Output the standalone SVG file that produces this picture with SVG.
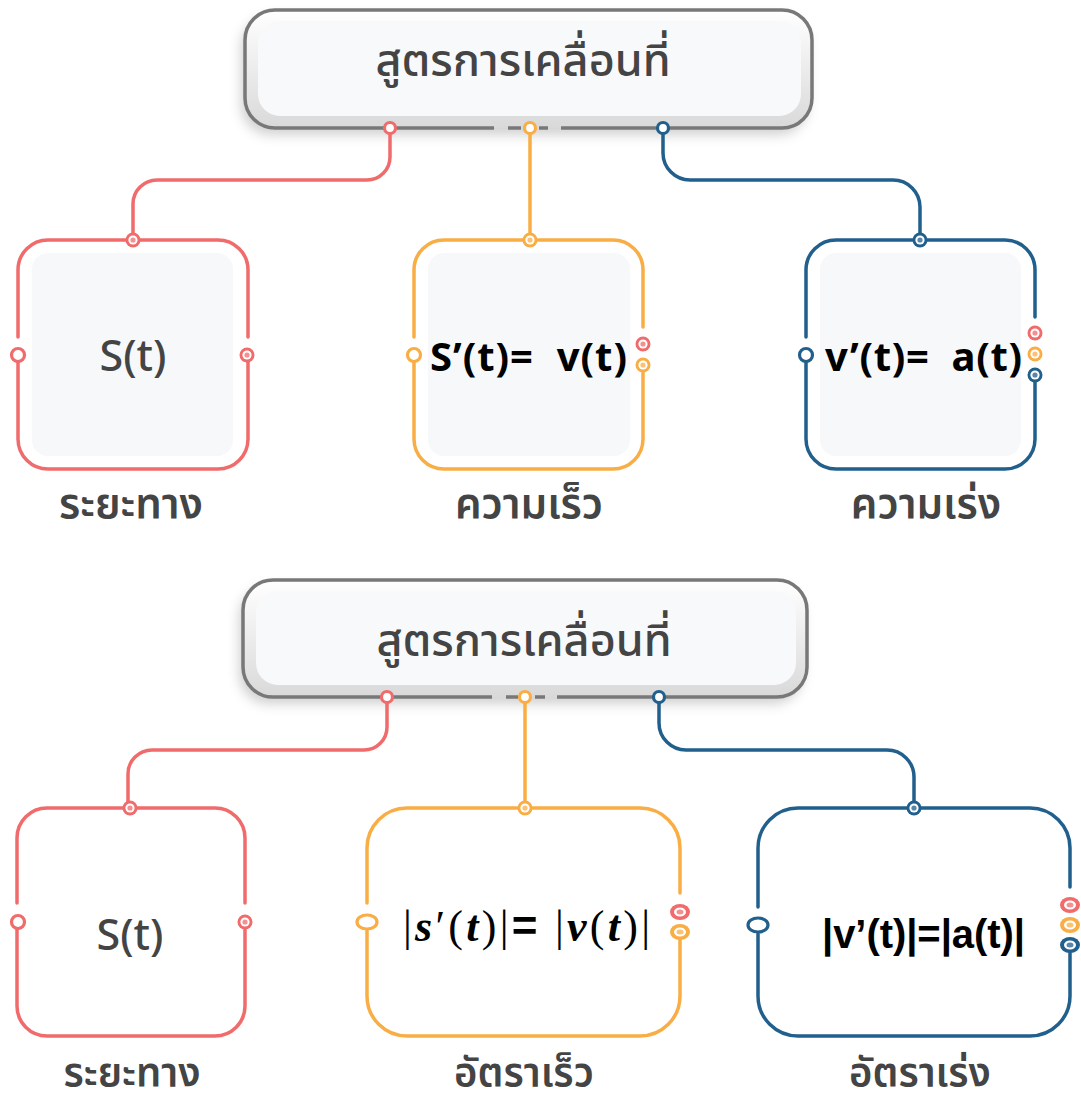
<svg xmlns="http://www.w3.org/2000/svg" width="1081" height="1104" viewBox="0 0 1081 1104">
<defs>
<style>
.th{font-family:'Noto Sans Thai','Noto Sans','Noto Sans CJK SC',sans-serif;fill:#444;}
.hd{font-size:45px;font-weight:500;}
.lb{font-size:42px;font-weight:600;}
.lb2{font-size:40px;font-weight:600;}
.st{font-family:'Noto Sans','Open Sans',sans-serif;font-size:43px;font-weight:500;fill:#444;}
.fm{font-family:'Noto Sans','Open Sans',sans-serif;font-size:40px;font-weight:bold;fill:#000;}
.r{stroke:#f06b6b;} .o{stroke:#f9ad45;} .b{stroke:#215f8c;}
.ln{fill:none;stroke-width:3.5;stroke-linecap:round;}
.hs{fill:none;stroke:#787878;stroke-width:3.5;}
.hole{fill:#fff;stroke-width:3.2;}
.inner{fill:#f7f8fa;}
</style>
<filter id="sh" x="-10%" y="-20%" width="120%" height="150%">
<feDropShadow dx="-4" dy="7" stdDeviation="6" flood-color="#000" flood-opacity="0.18"/>
</filter>
<linearGradient id="hg" x1="0" y1="0" x2="0" y2="1">
<stop offset="0" stop-color="#ffffff"/>
<stop offset="1" stop-color="#d9d9d9"/>
</linearGradient>
<g id="pr"><circle r="7.5" fill="#f06b6b"/><circle r="4.6" fill="#fff"/><circle r="2.6" fill="#f06b6b" opacity="0.75"/></g>
<g id="po"><circle r="7.5" fill="#f9ad45"/><circle r="4.6" fill="#fff"/><circle r="2.6" fill="#f9ad45" opacity="0.75"/></g>
<g id="pb"><circle r="7.5" fill="#215f8c"/><circle r="4.6" fill="#fff"/><circle r="2.6" fill="#215f8c" opacity="0.75"/></g>
<g id="er"><ellipse rx="10" ry="8" fill="#f06b6b"/><ellipse rx="6" ry="4.5" fill="#fff"/><ellipse rx="3.5" ry="2.5" fill="#f06b6b" opacity="0.75"/></g>
<g id="eo"><ellipse rx="10" ry="8" fill="#f9ad45"/><ellipse rx="6" ry="4.5" fill="#fff"/><ellipse rx="3.5" ry="2.5" fill="#f9ad45" opacity="0.75"/></g>
<g id="eb"><ellipse rx="10" ry="8" fill="#215f8c"/><ellipse rx="6" ry="4.5" fill="#fff"/><ellipse rx="3.5" ry="2.5" fill="#215f8c" opacity="0.75"/></g>
</defs>
<rect width="1081" height="1104" fill="#fff"/>

<!-- ===== TOP SECTION ===== -->
<g id="header-top">
<rect x="245" y="10" width="567" height="118" rx="30" fill="url(#hg)" filter="url(#sh)"/>
<rect x="258" y="21" width="543" height="95" rx="22" fill="#f8f9fb"/>
<path class="hs" d="M494,128 H275 A30,30 0 0 1 245,98 V40 A30,30 0 0 1 275,10 H782 A30,30 0 0 1 812,40 V98 A30,30 0 0 1 782,128 H561 M508,128 H521 M539,128 H548"/>
<text class="th hd" x="523" y="76" text-anchor="middle">สูตรการเคลื่อนที่</text>
</g>

<g id="connectors-top">
<path class="ln r" d="M390,134 V157 A23,23 0 0 1 367,180 H157 A24,24 0 0 0 133,204 V234"/>
<path class="ln o" d="M530,134 V234"/>
<path class="ln b" d="M663,134 V153 A27,27 0 0 0 690,180 H893 A27,27 0 0 1 920,207 V234"/>
<circle class="hole r" cx="390" cy="128" r="5.5"/>
<circle class="hole o" cx="530" cy="128" r="5.5"/>
<circle class="hole b" cx="663" cy="128" r="5.5"/>
</g>

<g id="node-distance-top">
<rect class="inner" x="32" y="253" width="201" height="203" rx="16"/>
<path class="ln r" d="M18,337 V270 A30,30 0 0 1 48,240 H218 A30,30 0 0 1 248,270 V337"/>
<path class="ln r" d="M18,362 V439 A30,30 0 0 0 48,469 H218 A30,30 0 0 0 248,439 V362"/>
<use href="#pr" x="133" y="240"/>
<circle class="hole r" cx="18" cy="355" r="6.5"/>
<use href="#pr" x="247" y="355"/>
<text class="st" x="133" y="371" text-anchor="middle">S(t)</text>
<text class="th lb" x="131" y="518" text-anchor="middle">ระยะทาง</text>
</g>

<g id="node-velocity-top">
<rect class="inner" x="428" y="253" width="202" height="203" rx="16"/>
<path class="ln o" d="M414,337 V270 A30,30 0 0 1 444,240 H613 A30,30 0 0 1 643,270 V327"/>
<path class="ln o" d="M414,362 V439 A30,30 0 0 0 444,469 H613 A30,30 0 0 0 643,439 V372"/>
<use href="#po" x="530" y="240"/>
<circle class="hole o" cx="414" cy="355" r="6.5"/>
<use href="#pr" x="643" y="344"/>
<use href="#po" x="643" y="365"/>
<text class="fm" x="430" y="371" textLength="197" lengthAdjust="spacing" xml:space="preserve">S’(t)=  v(t)</text>
<text class="th lb" x="529" y="518" text-anchor="middle">ความเร็ว</text>
</g>

<g id="node-accel-top">
<rect class="inner" x="820" y="253" width="201" height="203" rx="16"/>
<path class="ln b" d="M806,337 V270 A30,30 0 0 1 836,240 H1005 A30,30 0 0 1 1035,270 V317"/>
<path class="ln b" d="M806,362 V439 A30,30 0 0 0 836,469 H1005 A30,30 0 0 0 1035,439 V382"/>
<use href="#pb" x="920" y="240"/>
<circle class="hole b" cx="806" cy="355" r="6.5"/>
<use href="#pr" x="1035" y="333"/>
<use href="#po" x="1035" y="354"/>
<use href="#pb" x="1035" y="375"/>
<text class="fm" x="825" y="371" textLength="197" lengthAdjust="spacing" xml:space="preserve">v’(t)=  a(t)</text>
<text class="th lb" x="926" y="518" text-anchor="middle">ความเร่ง</text>
</g>

<!-- ===== BOTTOM SECTION ===== -->
<g id="header-bottom">
<rect x="243" y="580" width="564" height="117" rx="30" fill="url(#hg)" filter="url(#sh)"/>
<rect x="256" y="591" width="540" height="94" rx="22" fill="#f8f9fb"/>
<path class="hs" d="M492,697 H273 A30,30 0 0 1 243,667 V610 A30,30 0 0 1 273,580 H777 A30,30 0 0 1 807,610 V667 A30,30 0 0 1 777,697 H557 M506,697 H518 M535,697 H545"/>
<text class="th hd" x="524" y="656" text-anchor="middle">สูตรการเคลื่อนที่</text>
</g>

<g id="connectors-bottom">
<path class="ln r" d="M387,703 V727 A23,23 0 0 1 364,750 H152 A24,24 0 0 0 128,774 V802"/>
<path class="ln o" d="M525,703 V802"/>
<path class="ln b" d="M659,703 V723 A27,27 0 0 0 686,750 H887 A27,27 0 0 1 914,777 V802"/>
<circle class="hole r" cx="387" cy="697" r="5.5"/>
<circle class="hole o" cx="525" cy="697" r="5.5"/>
<circle class="hole b" cx="659" cy="697" r="5.5"/>
</g>

<g id="node-distance-bottom">
<path class="ln r" d="M17,903 V838 A30,30 0 0 1 47,808 H215 A30,30 0 0 1 245,838 V903"/>
<path class="ln r" d="M17,929 V1006 A30,30 0 0 0 47,1036 H215 A30,30 0 0 0 245,1006 V929"/>
<use href="#pr" x="130" y="808"/>
<circle class="hole r" cx="18" cy="922" r="6.5"/>
<use href="#pr" x="245" y="922"/>
<text class="st" x="130" y="950" text-anchor="middle">S(t)</text>
<text class="th lb2" x="132" y="1087" text-anchor="middle">ระยะทาง</text>
</g>

<g id="node-speed-bottom">
<path class="ln o" d="M367,903 V848 A40,40 0 0 1 407,808 H640 A40,40 0 0 1 680,848 V893"/>
<path class="ln o" d="M367,931 V996 A40,40 0 0 0 407,1036 H640 A40,40 0 0 0 680,996 V940"/>
<use href="#po" x="525" y="808"/>
<ellipse class="hole o" cx="367" cy="922" rx="10" ry="7"/>
<use href="#er" x="680" y="912"/>
<use href="#eo" x="680" y="932"/>
<text x="403" y="941" textLength="247" lengthAdjust="spacing" style="font-family:'Liberation Serif',serif;font-size:44px;fill:#000;" xml:space="preserve">|<tspan font-style="italic" font-weight="bold">s</tspan>′(<tspan font-style="italic" font-weight="bold">t</tspan>)|<tspan style="font-family:'Liberation Sans',sans-serif;font-weight:bold;">=</tspan> |<tspan font-style="italic" font-weight="bold">v</tspan>(<tspan font-style="italic" font-weight="bold">t</tspan>)|</text>
<text class="th lb2" x="524" y="1087" text-anchor="middle">อัตราเร็ว</text>
</g>

<g id="node-accelmag-bottom">
<path class="ln b" d="M758,907 V848 A40,40 0 0 1 798,808 H1030 A40,40 0 0 1 1070,848 V887"/>
<path class="ln b" d="M758,934 V996 A40,40 0 0 0 798,1036 H1030 A40,40 0 0 0 1070,996 V953"/>
<use href="#pb" x="914" y="808"/>
<ellipse class="hole b" cx="758" cy="925" rx="10" ry="7"/>
<use href="#er" x="1070" y="905"/>
<use href="#eo" x="1070" y="925"/>
<use href="#eb" x="1070" y="945"/>
<text x="822" y="948" textLength="203" lengthAdjust="spacing" style="font-family:'Liberation Sans',sans-serif;font-size:40px;font-weight:bold;fill:#000;">|v’(t)|=|a(t)|</text>
<text class="th lb2" x="920" y="1087" text-anchor="middle">อัตราเร่ง</text>
</g>
</svg>
